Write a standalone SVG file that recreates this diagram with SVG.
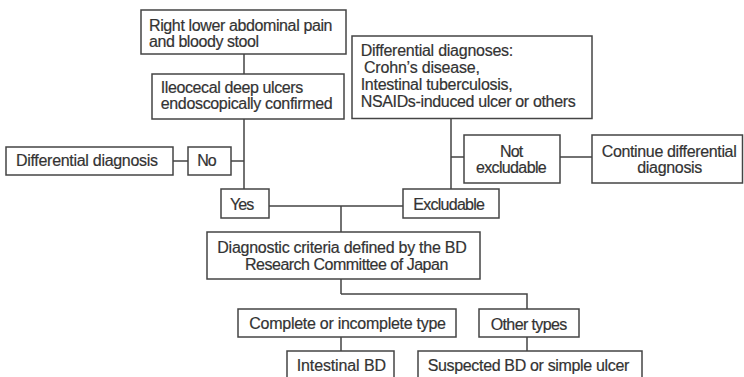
<svg xmlns="http://www.w3.org/2000/svg" width="744" height="377" viewBox="0 0 744 377">
<style>
.box{fill:#fff;stroke:#444;stroke-width:1.5}
.ln{fill:none;stroke:#444;stroke-width:1.5}
text{font-family:"Liberation Sans",Arial,sans-serif;font-size:16px;fill:#333;stroke:#333;stroke-width:0.2}
</style>
<rect width="744" height="377" fill="#fff"/>
<g id="connectors">
<path class="ln" d="M244 54V74M244 119V189M231 161H244M173 161H188"/>
<path class="ln" d="M451 118.5V189M451 157H464M560 157H592M269 206H403M341 206V232M341 279V294M341 294H527V309M341 337V351M527 337V351"/>
</g>
<g id="n1"><rect class="box" x="141" y="10" width="205" height="44"/>
<text x="149" y="31" textLength="183.5">Right lower abdominal pain</text><text x="149" y="47" textLength="110">and bloody stool</text></g>
<g id="n2"><rect class="box" x="152" y="74" width="192" height="45"/>
<text x="160.7" y="92.5" textLength="142.6">Ileocecal deep ulcers</text><text x="160.7" y="109.3" textLength="172">endoscopically confirmed</text></g>
<g id="n3"><rect class="box" x="352" y="36" width="240" height="82.5"/>
<text x="360.7" y="55.7" textLength="152.6">Differential diagnoses:</text><text x="364" y="72.5" textLength="116">Crohn’s disease,</text><text x="360.7" y="89.5" textLength="152">Intestinal tuberculosis,</text><text x="360.7" y="106.8" textLength="215">NSAIDs-induced ulcer or others</text></g>
<g id="n4"><rect class="box" x="6" y="147" width="167" height="28"/>
<text x="16" y="166" textLength="142">Differential diagnosis</text></g>
<g id="n5"><rect class="box" x="188" y="147" width="43" height="28"/>
<text x="197.3" y="166" textLength="19.4">No</text></g>
<g id="n6"><rect class="box" x="221" y="189" width="48" height="29"/>
<text x="230" y="209.5" textLength="24.3">Yes</text></g>
<g id="n7"><rect class="box" x="464" y="135" width="96" height="48"/>
<text x="500" y="156.7" textLength="23.3">Not</text><text x="476" y="173.3" textLength="70.7">excludable</text></g>
<g id="n8"><rect class="box" x="592" y="135" width="150.5" height="48"/>
<text x="601.7" y="156.7" textLength="135">Continue differential</text><text x="637.3" y="173.3" textLength="65">diagnosis</text></g>
<g id="n9"><rect class="box" x="403" y="189" width="96" height="29"/>
<text x="413.3" y="209.5" textLength="71.7">Excludable</text></g>
<g id="n10"><rect class="box" x="207" y="232" width="273" height="47"/>
<text x="217.3" y="252.7" textLength="249.4">Diagnostic criteria defined by the BD</text><text x="245" y="270" textLength="203.3">Research Committee of Japan</text></g>
<g id="n11"><rect class="box" x="238" y="309" width="218" height="28"/>
<text x="249.3" y="328.5" textLength="196.7">Complete or incomplete type</text></g>
<g id="n12"><rect class="box" x="479" y="309" width="100" height="28"/>
<text x="490.7" y="329.5" textLength="76.6">Other types</text></g>
<g id="n13"><rect class="box" x="287" y="351" width="107" height="34"/>
<text x="296.7" y="371" textLength="89.3">Intestinal BD</text></g>
<g id="n14"><rect class="box" x="418" y="351" width="224" height="34"/>
<text x="427.7" y="371" textLength="201.6">Suspected BD or simple ulcer</text></g>
</svg>
